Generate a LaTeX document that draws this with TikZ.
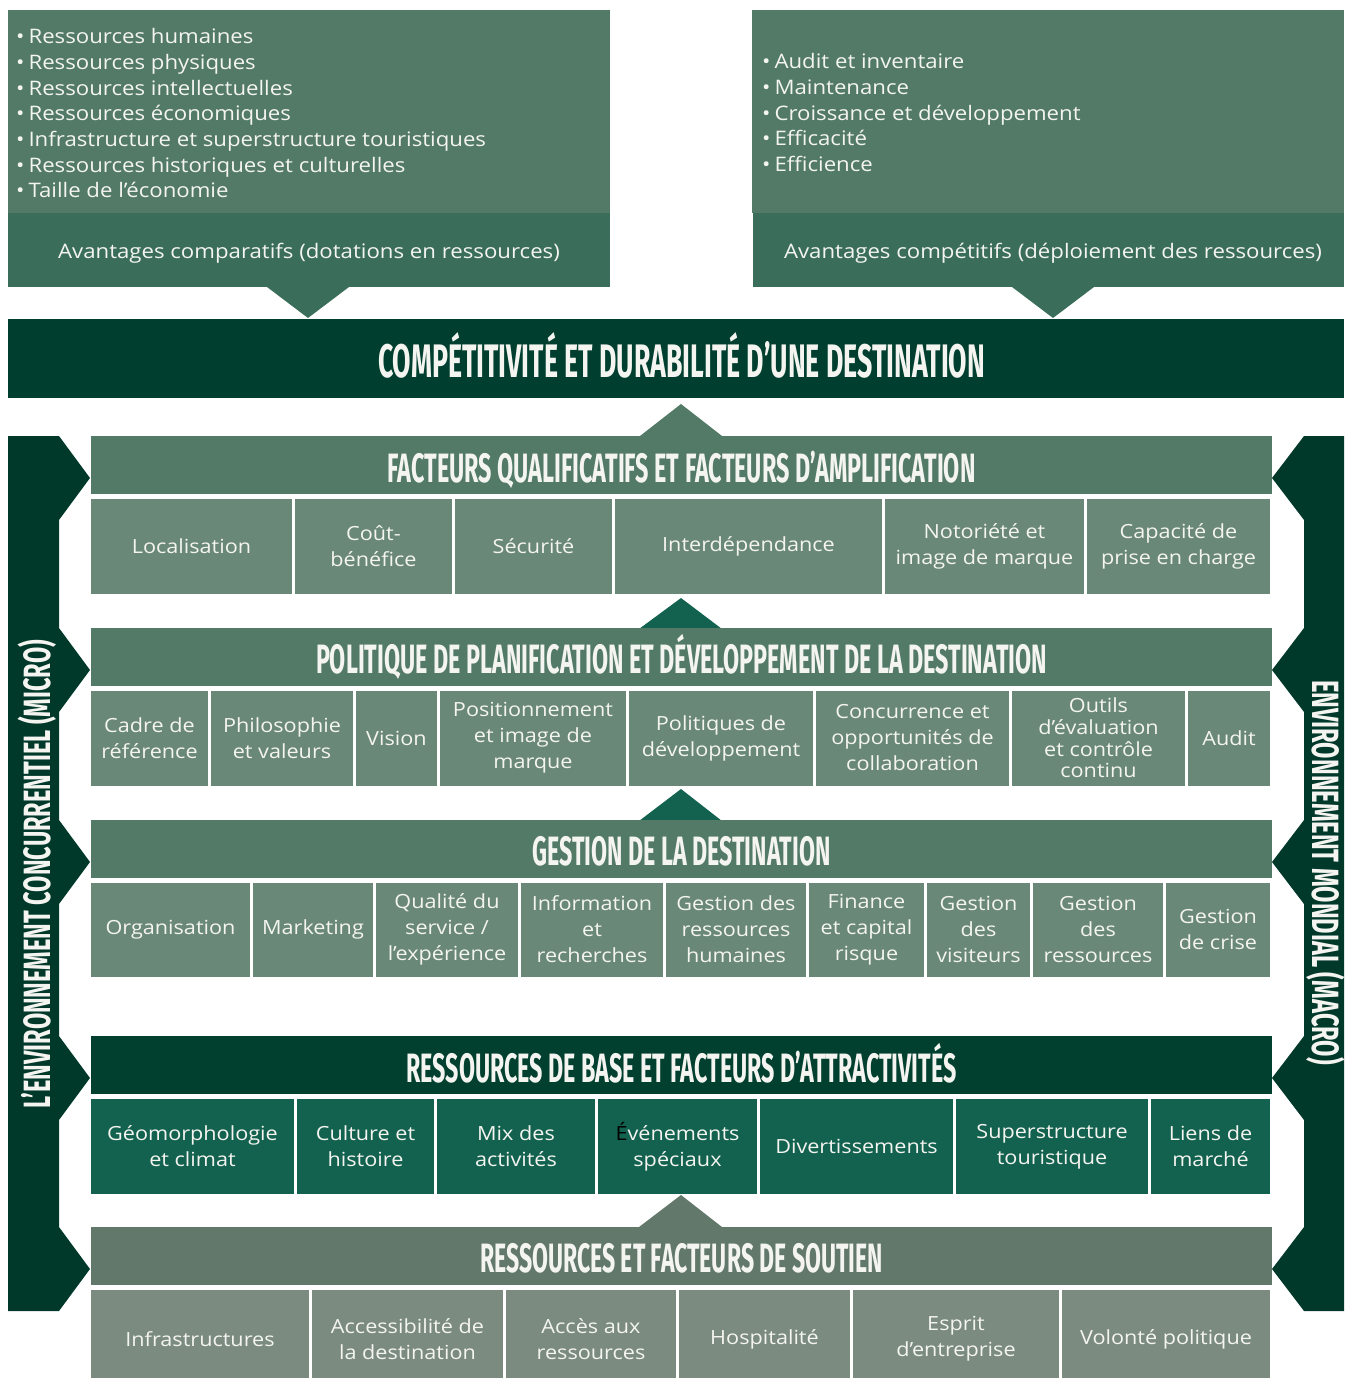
\documentclass[tikz,border=0pt]{standalone}
\usepackage{fontspec}
\usepackage{graphicx}
\setmainfont{Open Sans}[FakeStretch=1.11]
\newfontfamily\hfont{Fira Sans}
\definecolor{boxlight}{HTML}{527A67}
\definecolor{boxdark}{HTML}{3A6E5A}
\definecolor{titledark}{HTML}{003F2F}
\definecolor{sidebar}{HTML}{00382A}
\definecolor{hdA}{HTML}{527A67}
\definecolor{cellA}{HTML}{6A8877}
\definecolor{cellB}{HTML}{13624F}
\definecolor{hdB}{HTML}{013F2F}
\definecolor{hdC}{HTML}{62786A}
\definecolor{cellC}{HTML}{7B8B80}
\definecolor{txt}{HTML}{F4F4F0}
\newcommand\hdt[3]{\resizebox*{#1pt}{\totalheight}{\fontsize{#2}{#2}\selectfont\hfont\bfseries #3}}
\tikzset{
  cellbase/.style={rectangle, inner sep=0pt, align=center, text=txt, font=\fontsize{19.5}{26}\selectfont},
  hdbox/.style={rectangle, inner sep=0pt, minimum width=1181, minimum height=58},
  hdtxt/.style={inner sep=0pt, text=txt, text height=28, text depth=0},
  bul/.style={inner sep=0pt, anchor=base west, text=txt, font=\fontsize{20}{25}\selectfont},
}
\begin{document}
\begin{tikzpicture}[x=1pt,y=-1pt]
\useasboundingbox (0,0) rectangle (1344,1378);

% ---- top boxes
\fill[boxlight] (8,10) rectangle (610,213);
\fill[boxdark] (8,213) rectangle (610,287);
\fill[boxdark] (267,287) -- (308,318) -- (349,287) -- cycle;
\fill[boxlight] (752,10) rectangle (1344,213);
\fill[boxdark] (753,213) rectangle (1344,287);
\fill[boxdark] (1012,287) -- (1053,318) -- (1094,287) -- cycle;

\foreach \t [count=\i] in {Ressources humaines, Ressources physiques, Ressources intellectuelles, Ressources économiques, Infrastructure et superstructure touristiques, Ressources historiques et culturelles, Taille de l’économie}
  \node[bul] (lb\i) at (16,{44+25.6*(\i-1)}) {•\hspace{4pt}\t};
\foreach \t [count=\i] in {Audit et inventaire, Maintenance, Croissance et développement, Efficacité, Efficience}
  \node[bul] (rb\i) at (762,{69+25.6*(\i-1)}) {•\hspace{4pt}\t};

\node[inner sep=0pt, anchor=base, text=txt, font=\fontsize{20}{25}\selectfont] (avl) at (309,258) {Avantages comparatifs (dotations en ressources)};
\node[inner sep=0pt, anchor=base, text=txt, font=\fontsize{20}{25}\selectfont] (avr) at (1053,258) {Avantages compétitifs (déploiement des ressources)};

% ---- title bar
\node[rectangle, fill=titledark, inner sep=0pt, minimum width=1336, minimum height=79] (titlebar) at (676,358.5) {};
\node[hdtxt, text height=32] (titletext) at (681.5,361.5) {\hdt{607}{47}{COMPÉTITIVITÉ ET DURABILITÉ D’UNE DESTINATION}};

% ---- side bars
\fill[sidebar] (8,436) -- (59,436) -- (90,478) -- (59,520) -- (59,628) -- (90,670) -- (59,712)
  -- (59,820) -- (90,862) -- (59,904) -- (59,1036) -- (90,1078) -- (59,1120)
  -- (59,1227) -- (90,1269) -- (59,1311) -- (8,1311) -- cycle;
\fill[sidebar] (1344,436) -- (1304,436) -- (1272,478) -- (1304,520) -- (1304,628) -- (1272,670) -- (1304,712)
  -- (1304,820) -- (1272,862) -- (1304,904) -- (1304,1036) -- (1272,1078) -- (1304,1120)
  -- (1304,1227) -- (1272,1269) -- (1304,1311) -- (1344,1311) -- cycle;
\node[hdtxt, text height=26, rotate=90] (lefttxt) at (37,874) {\hdt{468}{38}{L’ENVIRONNEMENT CONCURRENTIEL (MICRO)}};
\node[hdtxt, text height=26, rotate=-90] (righttxt) at (1325,872.5) {\hdt{385}{38}{ENVIRONNEMENT MONDIAL (MACRO)}};

% ---- triangles between sections
\fill[hdA] (640,436) -- (681,404) -- (722,436) -- cycle;
\fill[cellB] (639,629) -- (681,598) -- (722,629) -- cycle;
\fill[cellB] (639,821) -- (681,789) -- (722,821) -- cycle;
\fill[hdC] (639,1227) -- (681,1195) -- (722,1227) -- cycle;

% ---- FACTEURS
\node[hdbox, fill=hdA] (h1) at (681.5,465) {};
\node[hdtxt] (h1t) at (681.5,468) {\hdt{588}{41}{FACTEURS QUALIFICATIFS ET FACTEURS D’AMPLIFICATION}};
\foreach \a/\b/\t [count=\i] in {91/292/{Localisation}, 295/452/{Coût-\\bénéfice}, 455/612/{Sécurité}, 615/882/{Interdépendance}, 885/1084/{Notoriété et\\image de marque}, 1087/1270/{Capacité de\\prise en charge}}
  \node[cellbase, fill=cellA, minimum width={\b-\a}, minimum height=95] (fq\i) at ({(\a+\b)/2},546) {\t};

% ---- POLITIQUE
\node[hdbox, fill=hdA] (h2) at (681.5,657) {};
\node[hdtxt] (h2t) at (681.5,659) {\hdt{731}{41}{POLITIQUE DE PLANIFICATION ET DÉVELOPPEMENT DE LA DESTINATION}};
\foreach \a/\b/\t [count=\i] in {91/208/{Cadre de\\référence}, 211/353/{Philosophie\\et valeurs}, 356/437/{Vision}, 440/626/{Positionnement\\et image de\\marque}, 629/813/{Politiques de\\développement}, 816/1009/{Concurrence et\\opportunités de\\collaboration}, 1188/1270/{Audit}}
  \node[cellbase, fill=cellA, minimum width={\b-\a}, minimum height=95] (pp\i) at ({(\a+\b)/2},738) {\t};
\node[cellbase, fill=cellA, minimum width=173, minimum height=95, font=\fontsize{19.5}{21.7}\selectfont] (ppo) at (1098.5,738) {Outils\\d’évaluation\\et contrôle\\continu};

% ---- GESTION
\node[hdbox, fill=hdA] (h3) at (681.5,849) {};
\node[hdtxt] (h3t) at (681.5,851) {\hdt{298}{41}{GESTION DE LA DESTINATION}};
\foreach \a/\b/\t [count=\i] in {91/250/{Organisation}, 253/373/{Marketing}, 376/518/{Qualité du\\service /\\l’expérience}, 521/663/{Information\\et\\recherches}, 666/806/{Gestion des\\ressources\\humaines}, 809/924/{Finance\\et capital\\risque}, 927/1030/{Gestion\\des\\visiteurs}, 1033/1163/{Gestion\\des\\ressources}, 1166/1270/{Gestion\\de crise}}
  \node[cellbase, fill=cellA, minimum width={\b-\a}, minimum height=94] (gd\i) at ({(\a+\b)/2},929.5) {\t};

% ---- RESSOURCES DE BASE
\node[hdbox, fill=hdB] (h4) at (681.5,1065) {};
\node[hdtxt] (h4t) at (681.5,1068) {\hdt{550}{41}{RESSOURCES DE BASE ET FACTEURS D’ATTRACTIVITÉS}};
\foreach \a/\b/\t [count=\i] in {91/294/{Géomorphologie\\et climat}, 297/434/{Culture et\\histoire}, 437/595/{Mix des\\activités}, 598/757/{{\color{black}É}vénements\\spéciaux}, 760/953/{Divertissements}, 956/1148/{Superstructure\\touristique}, 1151/1270/{Liens de\\marché}}
  \node[cellbase, fill=cellB, minimum width={\b-\a}, minimum height=95] (rb\i) at ({(\a+\b)/2},1146.5) {\t};

% ---- SOUTIEN
\node[hdbox, fill=hdC] (h5) at (681.5,1255.5) {};
\node[hdtxt] (h5t) at (681.5,1258) {\hdt{403}{41}{RESSOURCES ET FACTEURS DE SOUTIEN}};
\foreach \a/\b/\t [count=\i] in {91/309/{Infrastructures}, 312/503/{Accessibilité de\\la destination}, 506/676/{Accès aux\\ressources}, 679/850/{Hospitalité}, 853/1059/{Esprit\\d’entreprise}, 1062/1270/{Volonté politique}}
  \node[cellbase, fill=cellC, minimum width={\b-\a}, minimum height=98] (rs\i) at ({(\a+\b)/2},1339) {\t};
\end{tikzpicture}
\end{document}
